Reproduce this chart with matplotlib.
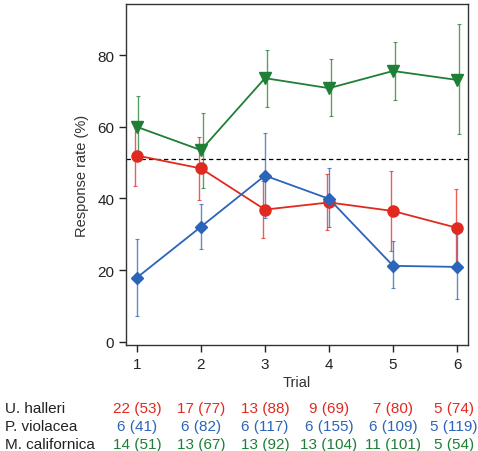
import matplotlib
matplotlib.use("Agg")
import matplotlib.pyplot as plt
from matplotlib.transforms import blended_transform_factory, offset_copy

plt.rcParams['font.family'] = ['Liberation Sans', 'DejaVu Sans']

trials = [1, 2, 3, 4, 5, 6]

# Response rate (%) and asymmetric error bars (lower, upper bounds)
halleri = [52.0, 48.4, 36.9, 38.9, 36.5, 31.8]
halleri_lo = [43.4, 39.7, 28.9, 31.3, 25.4, 22.1]
halleri_hi = [60.5, 57.3, 44.8, 46.8, 47.8, 42.6]

violacea = [17.9, 32.1, 46.4, 39.9, 21.2, 20.9]
violacea_lo = [7.3, 25.8, 34.6, 32.0, 15.0, 11.9]
violacea_hi = [28.6, 38.5, 58.4, 48.4, 28.0, 30.1]

californica = [60.0, 53.5, 73.6, 70.8, 75.6, 73.1]
californica_lo = [51.5, 42.8, 65.6, 63.0, 67.6, 57.9]
californica_hi = [68.7, 64.0, 81.5, 78.9, 83.6, 88.7]

chance_level = 50.9

row_labels = ["U. halleri", "P. violacea", "M. californica"]
halleri_counts = ["22 (53)", "17 (77)", "13 (88)", "9 (69)", "7 (80)", "5 (74)"]
violacea_counts = ["6 (41)", "6 (82)", "6 (117)", "6 (155)", "6 (109)", "5 (119)"]
californica_counts = ["14 (51)", "13 (67)", "13 (92)", "13 (104)", "11 (101)", "5 (54)"]

red = "#e02a1f"
blue = "#2b64b9"
green = "#1f7f36"

fig = plt.figure(figsize=(4.78, 4.52), dpi=100)
ax = fig.add_axes([126/478, 1-346/452, (468-126)/478, (346-5)/452])

def draw(vals, lo, hi, color, marker, ms, dodge):
    yerr = [[v - l for v, l in zip(vals, lo)], [h - v for v, h in zip(vals, hi)]]
    ax.errorbar([t + dodge for t in trials], vals, yerr=yerr, fmt='none', ecolor=color,
                alpha=0.75, elinewidth=1.0, capsize=1.5, capthick=0.8, zorder=2)
    ax.plot(trials, vals, color=color, lw=1.3, marker=marker, ms=ms,
            markeredgecolor=color, markerfacecolor=color, zorder=3)

ax.axhline(chance_level, color='black', lw=0.9, ls=(0, (3.5, 2.5)), zorder=1)
draw(halleri, halleri_lo, halleri_hi, red, 'o', 8, -0.025)
draw(violacea, violacea_lo, violacea_hi, blue, 'D', 6.5, 0.0)
draw(californica, californica_lo, californica_hi, green, 'v', 9, 0.025)

ax.set_xlim(0.83, 6.17)
ax.set_ylim(-0.9, 94.3)
ax.set_xticks(trials)
ax.set_yticks([0, 20, 40, 60, 80])
ax.tick_params(direction='out', length=5, width=1, labelsize=11, colors='#222222')
for s in ax.spines.values():
    s.set_linewidth(1.0)
    s.set_color('#333333')
ax.set_ylabel("Response rate (%)", fontsize=10.5, color='#333333', labelpad=6)
ax.set_xlabel("Trial", fontsize=10.5, color='#333333', labelpad=3)

tr = blended_transform_factory(ax.transData, fig.transFigure)
tr_last = offset_copy(tr, fig=fig, x=-3, y=0, units='dots')
rows_y = [1-409/452, 1-427/452, 1-445/452]
for lab, y in zip(row_labels, rows_y):
    fig.text(5/478, y, lab, fontsize=11, color='#222222', ha='left', va='center')
for counts, color, y in zip([halleri_counts, violacea_counts, californica_counts],
                            [red, blue, green], rows_y):
    for t, c in zip(trials, counts):
        ax.text(t, y, c, transform=(tr_last if t == trials[-1] else tr), fontsize=11,
                color=color, ha='center', va='center', clip_on=False)

fig.savefig("out.png", dpi=100)
